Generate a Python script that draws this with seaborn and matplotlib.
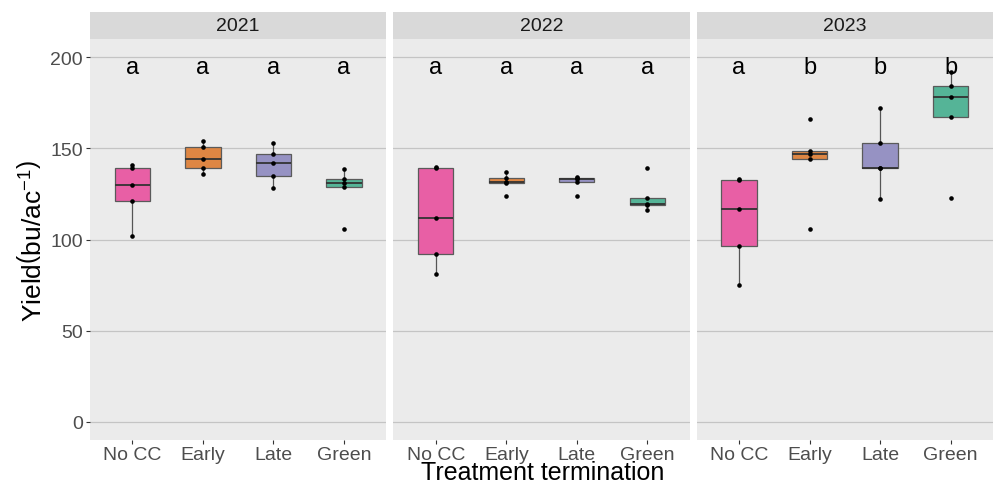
import matplotlib
matplotlib.use("Agg")
import matplotlib.pyplot as plt
import matplotlib.colors as mcolors
from matplotlib.patches import Rectangle
import seaborn as sns
import pandas as pd

# Yield (bu/ac) per plot, 5 replicates per treatment, in treatment order
years = ["2021", "2022", "2023"]
treatments = ["No CC", "Early", "Late", "Green"]
n_reps = 5

yield_2021 = [102, 121, 130, 139, 141,
              136, 139, 144, 150.5, 154,
              128, 135, 142, 147, 153,
              106, 129, 131, 133, 138.7]
yield_2022 = [81, 92, 112, 139, 140,
              124, 131, 131.3, 133.7, 137,
              124, 131.8, 133, 134, 134.3,
              116, 119, 119.3, 123, 139]
yield_2023 = [75, 96.7, 117, 132.5, 133,
              105.6, 144, 146.7, 148.7, 166,
              122, 139, 139, 153, 172,
              123, 167, 178, 184, 192]

# Mean-separation letters per year
letters_2021 = ["a", "a", "a", "a"]
letters_2022 = ["a", "a", "a", "a"]
letters_2023 = ["a", "b", "b", "b"]
letter_y = 191.5

base_colors = ["#E7298A", "#D95F02", "#7570B3", "#1B9E77"]
panel_bg = "#EBEBEB"


def blend(c, bg, alpha=0.72):
    c = mcolors.to_rgb(c)
    b = mcolors.to_rgb(bg)
    return tuple(alpha * ci + (1 - alpha) * bi for ci, bi in zip(c, b))


palette = [blend(c, panel_bg) for c in base_colors]

rows = []
for year, vals in zip(years, [yield_2021, yield_2022, yield_2023]):
    for i, v in enumerate(vals):
        rows.append({"Year": year, "Treatment": treatments[i // n_reps], "Yield": v})
df = pd.DataFrame(rows)
letters = {"2021": letters_2021, "2022": letters_2022, "2023": letters_2023}

plt.rcParams["font.family"] = ["Liberation Sans", "DejaVu Sans"]
plt.rcParams["mathtext.fontset"] = "custom"
plt.rcParams["mathtext.rm"] = "Liberation Sans"
plt.rcParams["mathtext.it"] = "Liberation Sans:italic"

fig, axes = plt.subplots(1, 3, figsize=(9.95, 4.85), dpi=100, sharey=True)
fig.subplots_adjust(left=0.0905, right=0.998, bottom=0.0907, top=0.9175, wspace=0.0236)

strip_h = 27 / 401

for k, (ax, year) in enumerate(zip(axes, years)):
    d = df[df["Year"] == year]
    ax.set_facecolor(panel_bg)
    sns.boxplot(data=d, x="Treatment", y="Yield", hue="Treatment",
                order=treatments, hue_order=treatments, palette=palette,
                saturation=1, width=0.5, showfliers=False, linewidth=0.9,
                linecolor="#5A5A5A",
                medianprops=dict(color="#333333", linewidth=1.3),
                whiskerprops=dict(color="#555555", linewidth=0.9),
                capprops=dict(linewidth=0), legend=False, ax=ax)
    sns.stripplot(data=d, x="Treatment", y="Yield", order=treatments,
                  color="black", jitter=False, size=3.3, ax=ax, zorder=5)
    for i, lab in enumerate(letters[year]):
        ax.text(i, letter_y, lab, ha="center", va="baseline", fontsize=17,
                color="black")

    ax.set_xlim(-0.6, 3.6)
    ax.set_ylim(-10, 210)
    ax.set_yticks([0, 50, 100, 150, 200])
    ax.yaxis.grid(True, color="#C4C4C4", linewidth=0.9)
    ax.xaxis.grid(False)
    ax.set_axisbelow(True)
    for sp in ax.spines.values():
        sp.set_visible(False)
    ax.set_xlabel("")
    ax.set_ylabel("")
    ax.tick_params(axis="x", labelsize=14, colors="#4D4D4D", length=3, width=0.8, pad=1.5)
    ax.tick_params(axis="x", color="#333333")
    if k == 0:
        ax.tick_params(axis="y", labelsize=14, colors="#4D4D4D", length=3, width=0.8, pad=2)
        ax.tick_params(axis="y", color="#333333")
    else:
        ax.tick_params(axis="y", length=0, labelleft=False)

    # facet strip
    ax.add_patch(Rectangle((0, 1), 1, strip_h, transform=ax.transAxes,
                           facecolor="#D9D9D9", edgecolor="none", clip_on=False))
    ax.text(0.5, 1 + strip_h / 2, year, transform=ax.transAxes, ha="center",
            va="center", fontsize=14, color="#1A1A1A")

fig.text(0.545, 1 - 480.5 / 485, "Treatment termination", ha="center", va="baseline",
         fontsize=18, color="black")
fig.text(0.032, 0.504, r"Yield$\left(\mathrm{bu}/\mathrm{ac}^{-1}\right)$", rotation=90,
         ha="center", va="center", fontsize=19, color="black")

fig.savefig("out.png", dpi=100, facecolor="white")
